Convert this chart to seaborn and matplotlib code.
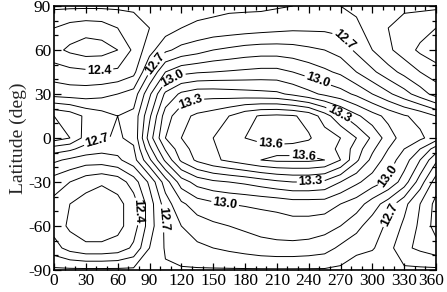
import numpy as np
import pandas as pd
import seaborn as sns
import matplotlib.pyplot as plt
from matplotlib.transforms import ScaledTranslation

# grid: 15 deg steps in longitude, 15 deg in latitude
# (plus one extra row at 7.5S where the two 13.6 cells part)
lon = list(range(0, 361, 15))
lat = [90, 75, 60, 45, 30, 15, 0, -7.5, -15, -30, -45, -60, -75, -90]

lat_p90 = [12.52, 12.52, 12.52, 12.52, 12.52, 12.52, 12.53, 12.54, 12.55, 12.56, 12.57, 12.58, 12.58,
           12.58, 12.59, 12.60, 12.61, 12.61, 12.60, 12.58, 12.55, 12.53, 12.52, 12.52, 12.52]
lat_p75 = [12.40, 12.36, 12.34, 12.35, 12.40, 12.45, 12.50, 12.55, 12.60, 12.62, 12.63, 12.64, 12.65,
           12.66, 12.67, 12.68, 12.68, 12.68, 12.67, 12.62, 12.56, 12.50, 12.46, 12.44, 12.40]
lat_p60 = [12.33, 12.28, 12.25, 12.26, 12.30, 12.42, 12.56, 12.68, 12.73, 12.76, 12.80, 12.82, 12.84,
           12.85, 12.85, 12.84, 12.82, 12.80, 12.76, 12.68, 12.60, 12.52, 12.45, 12.38, 12.33]
lat_p45 = [12.45, 12.43, 12.42, 12.41, 12.42, 12.47, 12.70, 12.90, 12.97, 12.99, 13.00, 13.01, 13.02,
           13.03, 13.03, 13.00, 12.96, 12.92, 12.88, 12.80, 12.72, 12.64, 12.57, 12.50, 12.45]
lat_p30 = [12.56, 12.55, 12.55, 12.57, 12.60, 12.64, 12.88, 13.12, 13.22, 13.26, 13.26, 13.25, 13.24,
           13.23, 13.22, 13.18, 13.13, 13.08, 13.04, 12.98, 12.90, 12.82, 12.74, 12.65, 12.56]
lat_p15 = [12.90, 12.86, 12.78, 12.74, 12.70, 12.73, 12.98, 13.25, 13.37, 13.42, 13.45, 13.50, 13.57,
           13.61, 13.62, 13.61, 13.57, 13.45, 13.32, 13.22, 13.14, 13.07, 13.01, 12.97, 12.90]
lat_0 = [12.95, 12.90, 12.76, 12.71, 12.69, 12.72, 13.05, 13.30, 13.40, 13.45, 13.50, 13.54, 13.60,
         13.63, 13.64, 13.63, 13.61, 13.55, 13.50, 13.40, 13.28, 13.15, 13.05, 13.02, 12.95]
lat_m7 = [12.75, 12.72, 12.66, 12.63, 12.63, 12.69, 12.97, 13.21, 13.36, 13.44, 13.49, 13.53, 13.55,
          13.56, 13.57, 13.57, 13.56, 13.54, 13.48, 13.35, 13.22, 13.10, 13.00, 12.90, 12.75]
lat_m15 = [12.62, 12.58, 12.55, 12.55, 12.58, 12.66, 12.88, 13.12, 13.32, 13.42, 13.48, 13.52, 13.56,
           13.60, 13.62, 13.62, 13.62, 13.60, 13.50, 13.32, 13.17, 13.05, 12.95, 12.80, 12.62]
lat_m30 = [12.45, 12.40, 12.34, 12.31, 12.34, 12.45, 12.62, 12.85, 13.05, 13.14, 13.18, 13.20, 13.22,
           13.25, 13.28, 13.30, 13.30, 13.28, 13.20, 13.12, 13.05, 12.98, 12.85, 12.65, 12.45]
lat_m45 = [12.37, 12.30, 12.26, 12.25, 12.27, 12.35, 12.55, 12.75, 12.88, 12.95, 12.98, 13.00, 13.01,
           13.02, 13.03, 13.05, 13.05, 13.05, 13.00, 12.95, 12.85, 12.75, 12.63, 12.50, 12.37]
lat_m60 = [12.36, 12.28, 12.25, 12.25, 12.27, 12.35, 12.55, 12.72, 12.80, 12.85, 12.88, 12.90, 12.92,
           12.94, 12.95, 12.96, 12.96, 12.94, 12.90, 12.83, 12.75, 12.68, 12.58, 12.48, 12.36]
lat_m75 = [12.44, 12.36, 12.32, 12.32, 12.34, 12.42, 12.60, 12.71, 12.75, 12.78, 12.80, 12.82, 12.84,
           12.86, 12.87, 12.87, 12.86, 12.84, 12.78, 12.74, 12.71, 12.64, 12.52, 12.48, 12.44]
lat_m90 = [12.62, 12.62, 12.62, 12.62, 12.62, 12.62, 12.62, 12.69, 12.69, 12.69, 12.69, 12.69, 12.69,
           12.69, 12.69, 12.69, 12.69, 12.69, 12.68, 12.62, 12.62, 12.62, 12.62, 12.62, 12.62]

plain_levels = [12.0, 12.1, 12.2, 12.3, 12.5, 12.6, 12.8, 12.9, 13.1, 13.2, 13.4, 13.5, 13.7]
label_levels = [12.4, 12.7, 13.0, 13.3, 13.6]

field = pd.DataFrame([lat_p90, lat_p75, lat_p60, lat_p45, lat_p30, lat_p15, lat_0, lat_m7,
                      lat_m15, lat_m30, lat_m45, lat_m60, lat_m75, lat_m90],
                     index=lat, columns=lon)

sns.set_style("ticks")
plt.rcParams['font.family'] = ['Liberation Serif', 'DejaVu Serif']
plt.rcParams['axes.unicode_minus'] = False

fig = plt.figure(figsize=(4.47, 2.92), dpi=100)
ax = fig.add_axes([54 / 447, 22 / 292, 382 / 447, 264 / 292])

ax.contour(field.columns, field.index, field.values, levels=plain_levels,
           colors='black', linewidths=0.7)
cs = ax.contour(field.columns, field.index, field.values, levels=label_levels,
                colors='black', linewidths=0.7)

# where the labels sit on the lines
label_spots = [(43, 48), (95, 51), (112, 40), (128, 26), (270, 65), (248, 38),
               (267, 14), (205, 3), (235, -13), (242, -30), (161, -46), (317, -27),
               (322, -54), (40, 0), (82, -50), (100, -55)]
lbls = ax.clabel(cs, manual=label_spots, inline=True,
                 inline_spacing=3, fmt='%.1f', fontsize=9)
for t in lbls:
    t.set_fontfamily('Liberation Sans')
    t.set_fontweight('bold')

ax.set_xlim(0, 360)
ax.set_ylim(-90, 90)
ax.set_xticks(range(0, 361, 30))
ax.set_yticks(range(-90, 91, 30))
ax.set_xticks(range(0, 361, 10), minor=True)
ax.set_yticks(range(-90, 91, 10), minor=True)
ax.tick_params(which='both', direction='in', top=True, right=True,
               labelsize=12.5, pad=2, width=0.9, color='black', labelcolor='black')
ax.tick_params(which='major', length=5)
ax.tick_params(which='minor', length=3)
for s in ax.spines.values():
    s.set_linewidth(1.2)
    s.set_color('black')
ax.set_ylabel('Latitude (deg)', fontsize=14, labelpad=1)

# the last x label is pulled in so it stays on the page
last = ax.get_xticklabels()[-1]
last.set_transform(last.get_transform() + ScaledTranslation(-5 / 100, 0, fig.dpi_scale_trans))

fig.savefig('out.png', dpi=100)
